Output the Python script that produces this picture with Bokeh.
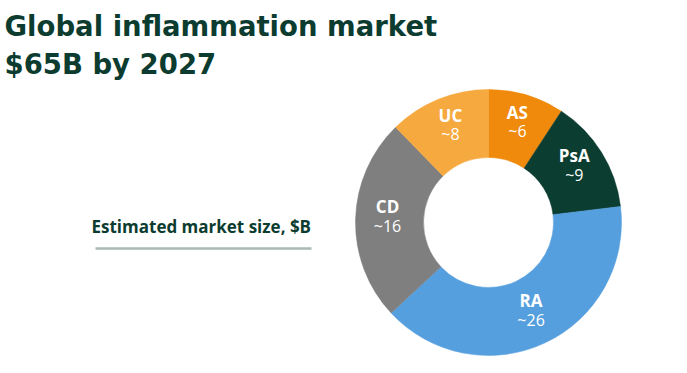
import math
from bokeh.plotting import figure
from bokeh.models import Range1d, Label, ColumnDataSource
from bokeh.core.properties import value
from bokeh.embed import file_html
from bokeh.resources import INLINE

# ---- data ----
title_lines = ["Global inflammation market", "$65B by 2027"]
subtitle = "Estimated market size, $B"
categories = ["AS", "PsA", "RA", "CD", "UC"]
values = [6, 9, 26, 16, 8]
value_labels = ["~6", "~9", "~26", "~16", "~8"]
colors = ["#F08A0C", "#0B3D31", "#569FDE", "#7F7F7F", "#F5A93F"]

W, H = 687, 373
p = figure(width=W, height=H, output_backend="svg", toolbar_location=None,
           x_range=Range1d(0, W), y_range=Range1d(0, H),
           min_border=0, outline_line_color=None)
p.axis.visible = False
p.grid.visible = False
p.background_fill_color = "white"
p.border_fill_color = "white"

# donut geometry (page pixel units, y up)
cx, cy = 488, H - 222
r_out, r_in = 133, 65
total = sum(values)
starts, ends, lx, ly = [], [], [], []
cum = 0.0
for v in values:
    a0 = math.pi / 2 - 2 * math.pi * (cum + v) / total
    a1 = math.pi / 2 - 2 * math.pi * cum / total
    starts.append(a0)
    ends.append(a1)
    mid = (a0 + a1) / 2
    rr = (r_out + r_in) / 2 + 2
    lx.append(cx + rr * math.cos(mid))
    ly.append(cy + rr * math.sin(mid) + 4)
    cum += v

src = ColumnDataSource(dict(cat=categories, val=value_labels, start=starts, end=ends,
                            color=colors, lx=lx, ly=ly,
                            ly_name=[y + 9.5 for y in ly], ly_val=[y - 9.5 for y in ly]))
p.annular_wedge(x=cx, y=cy, inner_radius=r_in, outer_radius=r_out,
                start_angle="start", end_angle="end", direction="anticlock",
                fill_color="color", line_color="color", line_width=0.5, source=src)
p.text(x="lx", y="ly_name", text="cat", source=src, text_color="white",
       text_font=value("Open Sans"), text_font_style="bold", text_font_size="17px",
       text_align="center", text_baseline="middle")
p.text(x="lx", y="ly_val", text="val", source=src, text_color="white",
       text_font=value("Open Sans"), text_font_size="16px",
       text_align="center", text_baseline="middle")

# titles
title_color = "#0C3C30"
for i, t in enumerate(title_lines):
    p.add_layout(Label(x=4, y=H - (25 + 38 * i), text=t, text_color=title_color,
                       text_font="DejaVu Sans", text_font_style="bold",
                       text_font_size="27.5px", text_baseline="alphabetic"))

p.add_layout(Label(x=91, y=H - 226, text=subtitle, text_color=title_color,
                   text_font="Open Sans", text_font_style="bold",
                   text_font_size="17px", text_baseline="alphabetic"))
p.segment(x0=[95], y0=[H - 248], x1=[311], y1=[H - 248],
          line_color="#AAB9B3", line_width=2.5)

open("out.html", "w").write(file_html(p, INLINE))
